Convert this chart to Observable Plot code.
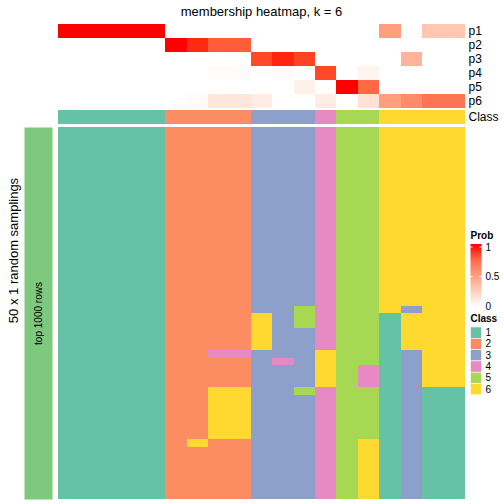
<!DOCTYPE html>
<html>
<head>
<meta charset="utf-8">
<script src="https://cdn.jsdelivr.net/npm/d3@7"></script>
<script src="https://cdn.jsdelivr.net/npm/@observablehq/plot@0.6"></script>
<style>
  html, body { margin: 0; padding: 0; background: white; }
  #fig { position: relative; width: 504px; height: 504px; overflow: hidden; font-family: "Liberation Sans", Arial, Helvetica, sans-serif; }
  #fig > svg, #fig > figure { position: absolute; margin: 0; }
</style>
</head>
<body>
<div id="fig"></div>
<script>
// ---------------- data ----------------
const columnIds = ["c1","c2","c3","c4","c5","c6","c7","c8","c9","c10","c11","c12","c13","c14","c15","c16","c17","c18","c19"];
const classNames = ["1","2","3","4","5","6"];
const classColors = ["#66C2A5","#FC8D62","#8DA0CB","#E78AC3","#A6D854","#FFD92F"];
const columnClass = ["1","1","1","1","1","2","2","2","2","3","3","3","4","5","5","6","6","6","6"];

const probNames = ["p1","p2","p3","p4","p5","p6"];
const p1 = [1,1,1,1,1,0,0,0,0,0,0,0,0,0,0,0.5,0,0.3,0.3];
const p2 = [0,0,0,0,0,1,0.95,0.8,0.8,0,0,0,0,0,0,0,0,0,0];
const p3 = [0,0,0,0,0,0,0,0,0,0.87,0.96,0.89,0,0,0,0,0.4,0,0];
const p4 = [0,0,0,0,0,0,0,0.02,0.02,0,0.02,0,0.87,0,0.06,0,0,0,0];
const p5 = [0,0,0,0,0,0,0,0,0,0,0,0.08,0,1,0.75,0,0,0,0];
const p6 = [0,0,0,0,0,0,0.02,0.14,0.14,0.1,0,0,0.1,0,0.16,0.5,0.6,0.7,0.7];
const probSeries = [p1,p2,p3,p4,p5,p6];

// class of each column in each of the 50 random samplings (one string per sampling, one char per column)
const samplingRows = [
  "1111122223334556666","1111122223334556666","1111122223334556666","1111122223334556666",
  "1111122223334556666","1111122223334556666","1111122223334556666","1111122223334556666",
  "1111122223334556666","1111122223334556666","1111122223334556666","1111122223334556666",
  "1111122223334556666","1111122223334556666","1111122223334556666","1111122223334556666",
  "1111122223334556666","1111122223334556666","1111122223334556666","1111122223334556666",
  "1111122223334556666","1111122223334556666","1111122223334556666","1111122223334556666",
  "1111122223354556366",
  "1111122226354551666","1111122226354551666",
  "1111122226334551666","1111122226334551666","1111122226334551666",
  "1111122443336551366",
  "1111122223436551366",
  "1111122223336541366","1111122223336541366","1111122223336541366",
  "1111122663354551311",
  "1111122663334551311","1111122663334551311","1111122663334551311",
  "1111122663334551311","1111122663334551311","1111122663334551311",
  "1111126223334561311",
  "1111122223334561311","1111122223334561311","1111122223334561311","1111122223334561311",
  "1111122223334561311","1111122223334561311","1111122223334561311"
];

const titleText = "membership heatmap, k = 6";
const rowTitleText = "50 x 1 random samplings";
const leftAnnoText = ["top 1000 rows"];
const leftAnnoColor = "#7FC97F";
const probTicks = [0, 0.5, 1];

// ---------------- tables ----------------
const probTable = [];
probSeries.forEach((s, i) => s.forEach((v, j) => probTable.push({p: probNames[i], col: columnIds[j], v})));
const classTable = columnClass.map((c, j) => ({row: "Class", col: columnIds[j], cls: c}));
const rowIds = samplingRows.map((r, i) => "s" + i);
const mainTable = [];
samplingRows.forEach((r, i) => r.split("").forEach((c, j) => mainTable.push({row: rowIds[i], col: columnIds[j], cls: c})));

// ---------------- layout ----------------
const FONT = '"Liberation Sans", Arial, Helvetica, sans-serif';
const W = 504, L = 58, R = 465;
const fig = document.getElementById("fig");
const probColor = {type: "linear", domain: [0, 1], range: ["white", "red"], interpolate: "lab"};
const clsColor = {type: "ordinal", domain: classNames, range: classColors};
const baseStyle = {fontFamily: FONT, fontSize: "12px", background: "none", overflow: "visible", color: "black"};
const xBand = {type: "band", domain: columnIds, padding: 0, round: false, axis: null};

function place(el, top, left) {
  el.style.position = "absolute";
  el.style.top = top + "px";
  el.style.left = left + "px";
  el.style.maxWidth = "none";
  fig.appendChild(el);
}

// top annotation: membership probabilities
const plotA = Plot.plot({
  width: W, height: 84, marginLeft: L, marginRight: W - R, marginTop: 0, marginBottom: 0,
  style: baseStyle,
  x: xBand,
  y: {type: "band", domain: probNames, padding: 0, round: false, axis: "right", tickSize: 0, tickPadding: 3, label: null},
  color: probColor,
  marks: [Plot.cell(probTable, {x: "col", y: "p", fill: "v", shapeRendering: "crispEdges"})]
});
place(plotA, 24, 0);

// class annotation bar
const plotB = Plot.plot({
  width: W, height: 14, marginLeft: L, marginRight: W - R, marginTop: 0, marginBottom: 0,
  style: baseStyle,
  x: xBand,
  y: {type: "band", domain: ["Class"], padding: 0, round: false, axis: "right", tickSize: 0, tickPadding: 3, label: null},
  color: clsColor,
  marks: [Plot.cell(classTable, {x: "col", y: "row", fill: "cls", shapeRendering: "crispEdges"})]
});
place(plotB, 110, 0);

// main heatmap
const plotC = Plot.plot({
  width: W, height: 372, marginLeft: L, marginRight: W - R, marginTop: 0, marginBottom: 0,
  style: baseStyle,
  x: xBand,
  y: {type: "band", domain: rowIds, padding: 0, round: false, axis: null},
  color: clsColor,
  marks: [Plot.cell(mainTable, {x: "col", y: "row", fill: "cls", shapeRendering: "crispEdges"})]
});
place(plotC, 127, 0);

// left annotation bar
const plotD = Plot.plot({
  width: 28, height: 372, margin: 0,
  style: baseStyle,
  x: {axis: null}, y: {axis: null},
  marks: [
    Plot.frame({fill: leftAnnoColor, stroke: "none"}),
    Plot.text(leftAnnoText, {frameAnchor: "middle", rotate: -90, fontSize: 10, fill: "black"})
  ]
});
place(plotD, 127, 24);

// overlay: titles and legends
const svg = d3.create("svg").attr("width", W).attr("height", W)
  .style("position", "absolute").style("top", "0px").style("left", "0px")
  .style("font-family", FONT).style("overflow", "visible");

svg.append("text").attr("x", (L + R) / 2).attr("y", 15.5).attr("text-anchor", "middle")
  .attr("font-size", 13).text(titleText);

svg.append("text").attr("transform", "translate(17.5,250.5) rotate(-90)").attr("text-anchor", "middle")
  .attr("font-size", 13).text(rowTitleText);

// Prob legend
const lx = 470.5, lw = 11, ly0 = 244, ly1 = 307;
svg.append("text").attr("x", lx).attr("y", 239).attr("font-size", 10).attr("font-weight", "bold").text("Prob");
const interp = d3.interpolateLab("white", "red");
const grad = svg.append("defs").append("linearGradient").attr("id", "probgrad")
  .attr("x1", 0).attr("y1", 1).attr("x2", 0).attr("y2", 0);
[0, 0.25, 0.5, 0.75, 1].forEach(t => grad.append("stop").attr("offset", t).attr("stop-color", interp(t)));
svg.append("rect").attr("x", lx).attr("y", ly0).attr("width", lw).attr("height", ly1 - ly0).attr("fill", "url(#probgrad)");
const ty = d3.scaleLinear().domain([0, 1]).range([306, 247]);
probTicks.forEach(t => {
  svg.append("line").attr("x1", lx).attr("x2", lx + 2).attr("y1", ty(t)).attr("y2", ty(t)).attr("stroke", "white").attr("stroke-width", 1);
  svg.append("line").attr("x1", lx + lw - 2).attr("x2", lx + lw).attr("y1", ty(t)).attr("y2", ty(t)).attr("stroke", "white").attr("stroke-width", 1);
  svg.append("text").attr("x", lx + lw + 4).attr("y", ty(t)).attr("dy", "0.35em").attr("font-size", 10).text(String(t));
});

// Class legend
svg.append("text").attr("x", lx).attr("y", 322).attr("font-size", 10).attr("font-weight", "bold").text("Class");
const step = 11.3, cy0 = 327;
classNames.forEach((c, i) => {
  svg.append("rect").attr("x", lx).attr("y", cy0 + i * step).attr("width", lw).attr("height", step)
    .attr("fill", classColors[i]).attr("stroke", "white").attr("stroke-width", 0.6);
  svg.append("text").attr("x", lx + lw + 4).attr("y", cy0 + i * step + step / 2).attr("dy", "0.35em")
    .attr("font-size", 10).text(c);
});

fig.appendChild(svg.node());
</script>
</body>
</html>
